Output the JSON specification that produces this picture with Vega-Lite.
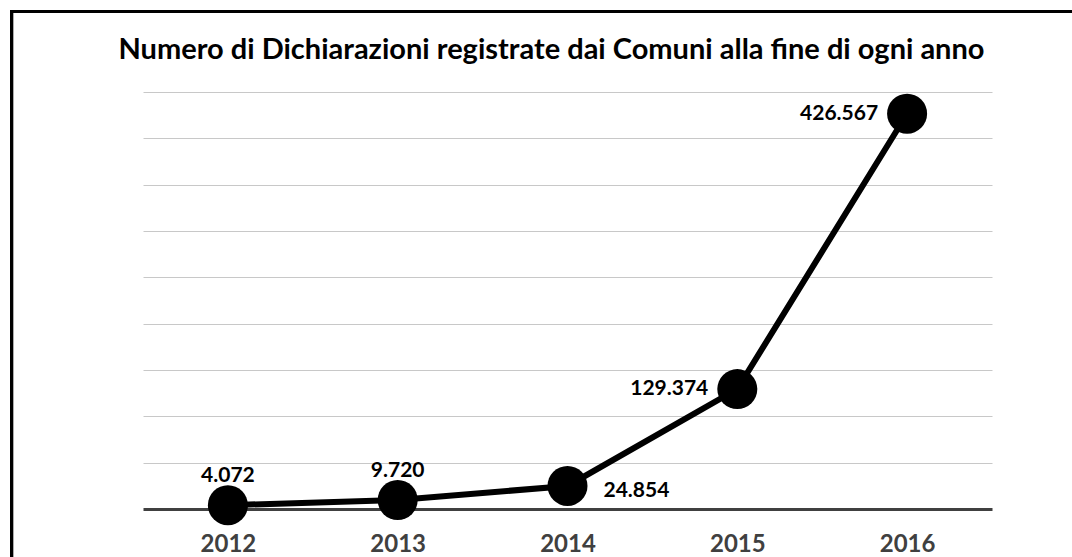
{
  "$schema": "https://vega.github.io/schema/vega-lite/v6.json",
  "autosize": {"type": "none"},
  "padding": {"left": 143, "top": 92, "right": 80, "bottom": 48},
  "width": 849,
  "height": 417,
  "background": "white",
  "config": {
    "view": {"stroke": null},
    "font": "Lato",
    "locale": {"number": {"decimal": ",", "thousands": ".", "grouping": [3], "currency": ["€", ""]}}
  },
  "title": {
    "text": "Numero di Dichiarazioni registrate dai Comuni alla fine di ogni anno",
    "font": "Lato",
    "fontSize": 29,
    "fontWeight": "bold",
    "color": "black",
    "anchor": "middle",
    "frame": "group",
    "baseline": "alphabetic",
    "offset": -78,
    "dx": -16
  },
  "data": {
    "values": [
      {"anno": 2012, "dichiarazioni": 4072},
      {"anno": 2013, "dichiarazioni": 9720},
      {"anno": 2014, "dichiarazioni": 24854},
      {"anno": 2015, "dichiarazioni": 129374},
      {"anno": 2016, "dichiarazioni": 426567}
    ]
  },
  "encoding": {
    "x": {
      "field": "anno",
      "type": "quantitative",
      "scale": {"domain": [2011.5, 2016.5], "nice": false, "zero": false},
      "axis": {
        "title": null,
        "values": [2012, 2013, 2014, 2015, 2016],
        "format": "d",
        "grid": false,
        "ticks": false,
        "domainColor": "#404040",
        "domainWidth": 3,
        "labelColor": "#404040",
        "labelFont": "Lato",
        "labelFontSize": 24,
        "labelFontWeight": "bold",
        "labelPadding": 23
      }
    },
    "y": {
      "field": "dichiarazioni",
      "type": "quantitative",
      "scale": {"domain": [0, 450000], "nice": false},
      "axis": {
        "title": null,
        "values": [50000, 100000, 150000, 200000, 250000, 300000, 350000, 400000, 450000],
        "labels": false,
        "ticks": false,
        "domain": false,
        "grid": true,
        "gridColor": "#c8c8c8",
        "gridWidth": 1
      }
    }
  },
  "layer": [
    {
      "mark": {"type": "rect", "fill": null, "fillOpacity": 0, "stroke": "black", "strokeWidth": 3, "clip": false},
      "encoding": {
        "x": {"datum": 2010.726},
        "x2": {"datum": 2030},
        "y": {"datum": 536868},
        "y2": {"datum": -300000}
      }
    },
    {
      "mark": {"type": "line", "color": "black", "strokeWidth": 6}
    },
    {
      "mark": {"type": "circle", "color": "black", "opacity": 1, "size": 1600}
    },
    {
      "transform": [{"filter": "datum.anno <= 2013"}],
      "mark": {"type": "text", "font": "Lato", "fontSize": 21, "fontWeight": "bold", "color": "black", "align": "center", "baseline": "alphabetic", "dy": -23},
      "encoding": {"text": {"field": "dichiarazioni", "type": "quantitative", "format": ",d"}}
    },
    {
      "transform": [{"filter": "datum.anno == 2014"}],
      "mark": {"type": "text", "font": "Lato", "fontSize": 21, "fontWeight": "bold", "color": "black", "align": "left", "baseline": "middle", "dx": 36, "dy": 5},
      "encoding": {"text": {"field": "dichiarazioni", "type": "quantitative", "format": ",d"}}
    },
    {
      "transform": [{"filter": "datum.anno >= 2015"}],
      "mark": {"type": "text", "font": "Lato", "fontSize": 21, "fontWeight": "bold", "color": "black", "align": "right", "baseline": "middle", "dx": -29},
      "encoding": {"text": {"field": "dichiarazioni", "type": "quantitative", "format": ",d"}}
    }
  ]
}
